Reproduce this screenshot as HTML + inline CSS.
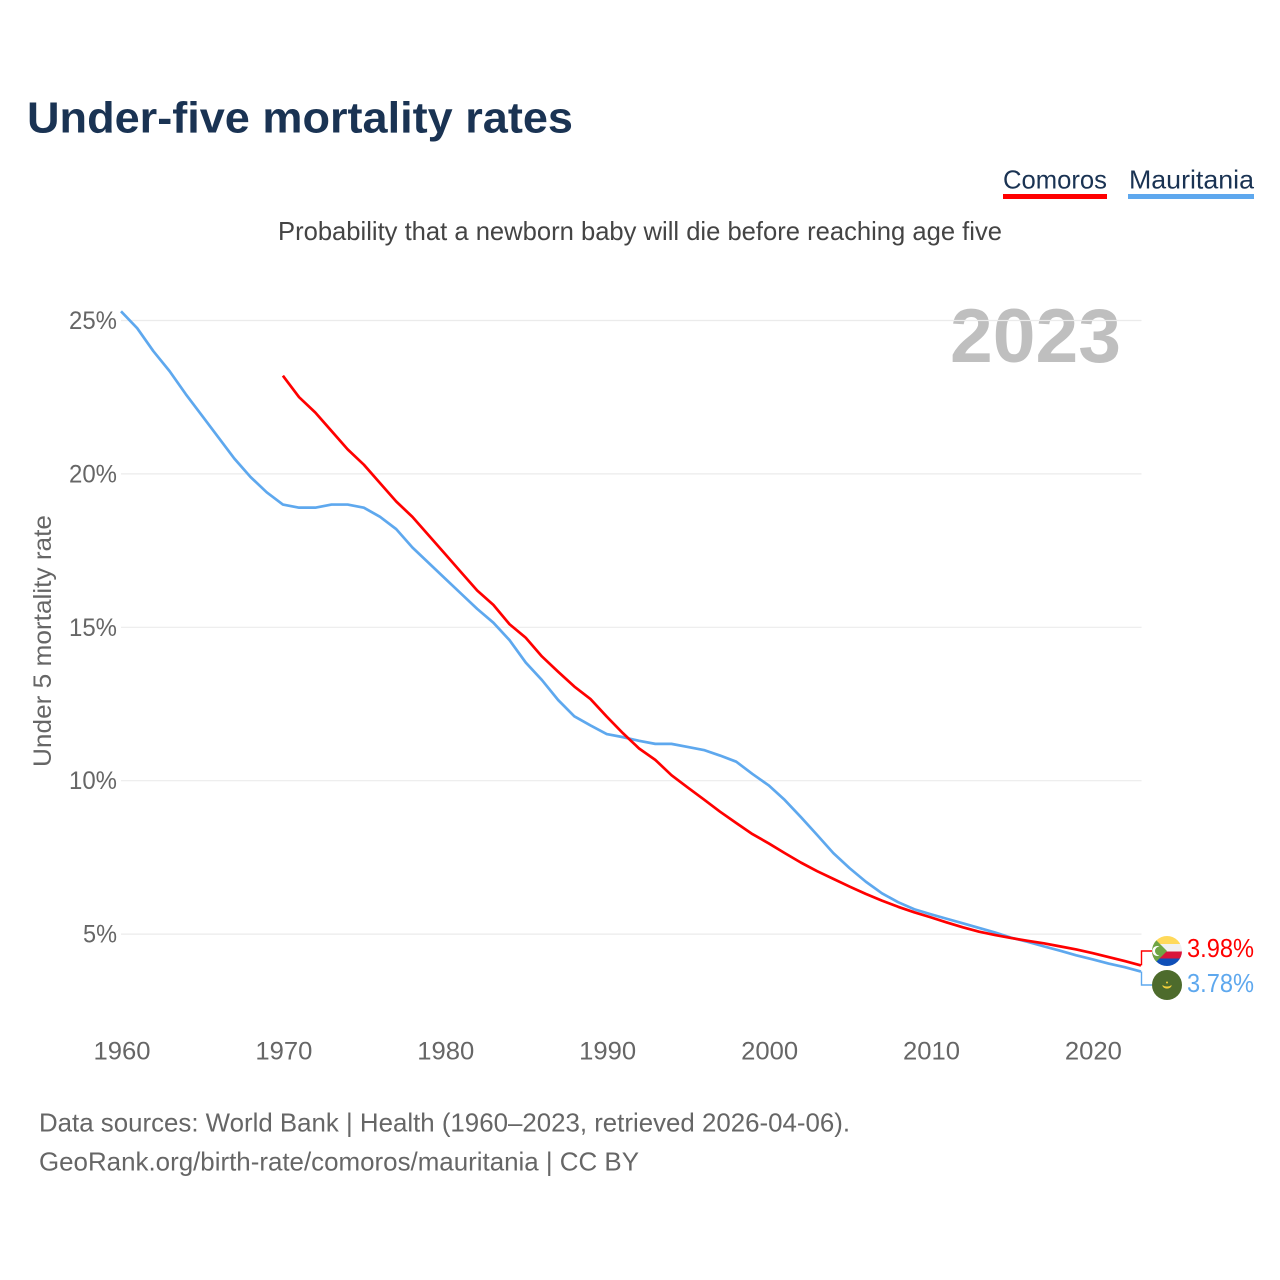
<!DOCTYPE html>
<html lang="en">
<head>
<meta charset="utf-8">
<title>Under-five mortality rates</title>
<style>
html,body{margin:0;padding:0;background:#fff;}
svg{display:block;font-family:"Liberation Sans",sans-serif;}
</style>
</head>
<body>
<svg id="chart" width="1280" height="1280" viewBox="0 0 1280 1280" xmlns="http://www.w3.org/2000/svg">
  <defs>
    <clipPath id="flag-clip-a"><circle cx="1167" cy="951" r="15"/></clipPath>
    <clipPath id="flag-clip-b"><circle cx="1167" cy="985" r="15"/></clipPath>
  </defs>
  <rect width="1280" height="1280" fill="#fff"/>
  <text x="27" y="132.5" font-size="44" font-weight="700" fill="#1a3353" textLength="546" lengthAdjust="spacingAndGlyphs">Under-five mortality rates</text>
  <g>
    <text x="1003" y="188.5" font-size="26" fill="#1a3353" textLength="104" lengthAdjust="spacingAndGlyphs">Comoros</text>
    <rect x="1003" y="194" width="104" height="5" fill="#ff0000"/>
  </g>
  <g>
    <text x="1129" y="188.5" font-size="26" fill="#1a3353" textLength="125" lengthAdjust="spacingAndGlyphs">Mauritania</text>
    <rect x="1128" y="194" width="126" height="5" fill="#5ea8ee"/>
  </g>
  <text x="278" y="240" font-size="26" fill="#444" textLength="724" lengthAdjust="spacingAndGlyphs">Probability that a newborn baby will die before reaching age five</text>
  <text x="950" y="362" font-size="76" font-weight="700" fill="#bfbfbf" textLength="171" lengthAdjust="spacingAndGlyphs">2023</text>
  <text transform="translate(51,767) rotate(-90)" font-size="25" fill="#666" textLength="252" lengthAdjust="spacingAndGlyphs">Under 5 mortality rate</text>
  <g id="grid"></g>
  <g id="y-ticks"></g>
  <g id="x-ticks"></g>
  <g id="series"></g>
  <g clip-path="url(#flag-clip-a)">
    <rect x="1152" y="936" width="30" height="8" fill="#ffd95a"/>
    <rect x="1152" y="944" width="30" height="7.5" fill="#f0f0f0"/>
    <rect x="1152" y="951.5" width="30" height="7" fill="#d8153a"/>
    <rect x="1152" y="958.5" width="30" height="8" fill="#0f4fb8"/>
    <polygon points="1152,936 1167,951 1152,966" fill="#6fa544"/>
    <path d="M1159.5 946.5a5 5 0 1 0 0 9a4.2 4.2 0 1 1 0 -9z" fill="#ffffff"/>
  </g>
  <g clip-path="url(#flag-clip-b)">
    <rect x="1152" y="970" width="30" height="30" fill="#4d6b2c"/>
    <path d="M1162.5 985.5a5 5 0 0 0 9 0a6 4 0 0 1 -9 0z" fill="#f2cf3c" stroke="#f2cf3c" stroke-width="0.6"/>
    <circle cx="1167" cy="982.5" r="1" fill="#f2cf3c"/>
  </g>
  <text x="1187" y="957" font-size="26" fill="#ff0000" textLength="67" lengthAdjust="spacingAndGlyphs">3.98%</text>
  <text x="1187" y="992" font-size="26" fill="#5ea8ee" textLength="67" lengthAdjust="spacingAndGlyphs">3.78%</text>
  <text x="39" y="1131.5" font-size="26" fill="#666" textLength="811" lengthAdjust="spacingAndGlyphs">Data sources: World Bank | Health (1960–2023, retrieved 2026-04-06).</text>
  <text x="39" y="1170.5" font-size="26" fill="#666" textLength="600" lengthAdjust="spacingAndGlyphs">GeoRank.org/birth-rate/comoros/mauritania | CC BY</text>
</svg>
<script>
const yearsMauritania = [1960,1961,1962,1963,1964,1965,1966,1967,1968,1969,1970,1971,1972,1973,1974,1975,1976,1977,1978,1979,1980,1981,1982,1983,1984,1985,1986,1987,1988,1989,1990,1991,1992,1993,1994,1995,1996,1997,1998,1999,2000,2001,2002,2003,2004,2005,2006,2007,2008,2009,2010,2011,2012,2013,2014,2015,2016,2017,2018,2019,2020,2021,2022,2023];
const valuesMauritania = [25.3,24.75,24.0,23.35,22.6,21.9,21.2,20.5,19.9,19.4,19.0,18.9,18.9,19.0,19.0,18.9,18.6,18.2,17.6,17.1,16.6,16.1,15.6,15.15,14.58,13.85,13.28,12.63,12.1,11.8,11.52,11.42,11.3,11.2,11.2,11.1,11.0,10.82,10.62,10.22,9.85,9.37,8.81,8.23,7.64,7.15,6.71,6.33,6.04,5.81,5.65,5.5,5.35,5.2,5.05,4.88,4.75,4.6,4.46,4.31,4.18,4.04,3.92,3.78];
const yearsComoros = [1970,1971,1972,1973,1974,1975,1976,1977,1978,1979,1980,1981,1982,1983,1984,1985,1986,1987,1988,1989,1990,1991,1992,1993,1994,1995,1996,1997,1998,1999,2000,2001,2002,2003,2004,2005,2006,2007,2008,2009,2010,2011,2012,2013,2014,2015,2016,2017,2018,2019,2020,2021,2022,2023];
const valuesComoros = [23.2,22.5,22.0,21.4,20.8,20.3,19.7,19.1,18.6,18.0,17.4,16.8,16.2,15.73,15.1,14.66,14.05,13.55,13.07,12.66,12.09,11.55,11.05,10.68,10.18,9.78,9.39,8.99,8.62,8.26,7.96,7.64,7.33,7.05,6.8,6.55,6.31,6.09,5.89,5.71,5.55,5.38,5.22,5.08,4.97,4.87,4.78,4.7,4.6,4.5,4.38,4.25,4.12,3.98];
const yTickValues = [5,10,15,20,25];
const xTickValues = [1960,1970,1980,1990,2000,2010,2020];

const NS = 'http://www.w3.org/2000/svg';
function xScale(year){ return 121 + (year - 1960) * 16.19; }
function yScale(pct){ return 1087.5 - pct * 30.68; }
function make(tag, attrs, parent){
  const el = document.createElementNS(NS, tag);
  for (const k in attrs) el.setAttribute(k, attrs[k]);
  parent.appendChild(el);
  return el;
}
const grid = document.getElementById('grid');
const yTicks = document.getElementById('y-ticks');
const xTicks = document.getElementById('x-ticks');
const series = document.getElementById('series');

yTickValues.forEach(function(v){
  const line = make('line', {x1:121, x2:1141.5, y1:yScale(v), y2:yScale(v), stroke:'#ebebeb', 'stroke-width':1.2}, grid);
  
  
  const label = make('text', {x:117, y:yScale(v)+8.5, 'text-anchor':'end', 'font-size':25, fill:'#666', textLength:(v < 10 ? 34 : 48), lengthAdjust:'spacingAndGlyphs'}, yTicks);
  label.textContent = v + '%';
  
  
});
xTickValues.forEach(function(v){
  const label = make('text', {x:xScale(v)+1, y:1059.5, 'text-anchor':'middle', 'font-size':25, fill:'#666', textLength:57, lengthAdjust:'spacingAndGlyphs'}, xTicks);
  label.textContent = String(v);
  
  
});
function pathFor(years, values){
  return years.map(function(y, i){ return (i ? 'L' : 'M') + xScale(y).toFixed(2) + ' ' + yScale(values[i]).toFixed(2); }).join('');
}
function endY(values){ return yScale(values[values.length - 1]); }

const lineMauritania = make('path', {d:pathFor(yearsMauritania, valuesMauritania), fill:'none', stroke:'#5ea8ee', 'stroke-width':2.7, 'stroke-linejoin':'round'}, series);


const lineComoros = make('path', {d:pathFor(yearsComoros, valuesComoros), fill:'none', stroke:'#ff0000', 'stroke-width':2.7, 'stroke-linejoin':'round'}, series);



const connectorComoros = make('path', {d:'M1141.5 ' + endY(valuesComoros).toFixed(1) + 'V951H1152', fill:'none', stroke:'#ff0000', 'stroke-width':1.4}, series);


const connectorMauritania = make('path', {d:'M1141.5 ' + endY(valuesMauritania).toFixed(1) + 'V985H1152', fill:'none', stroke:'#5ea8ee', 'stroke-width':1.4}, series);


</script>
</body>
</html>
